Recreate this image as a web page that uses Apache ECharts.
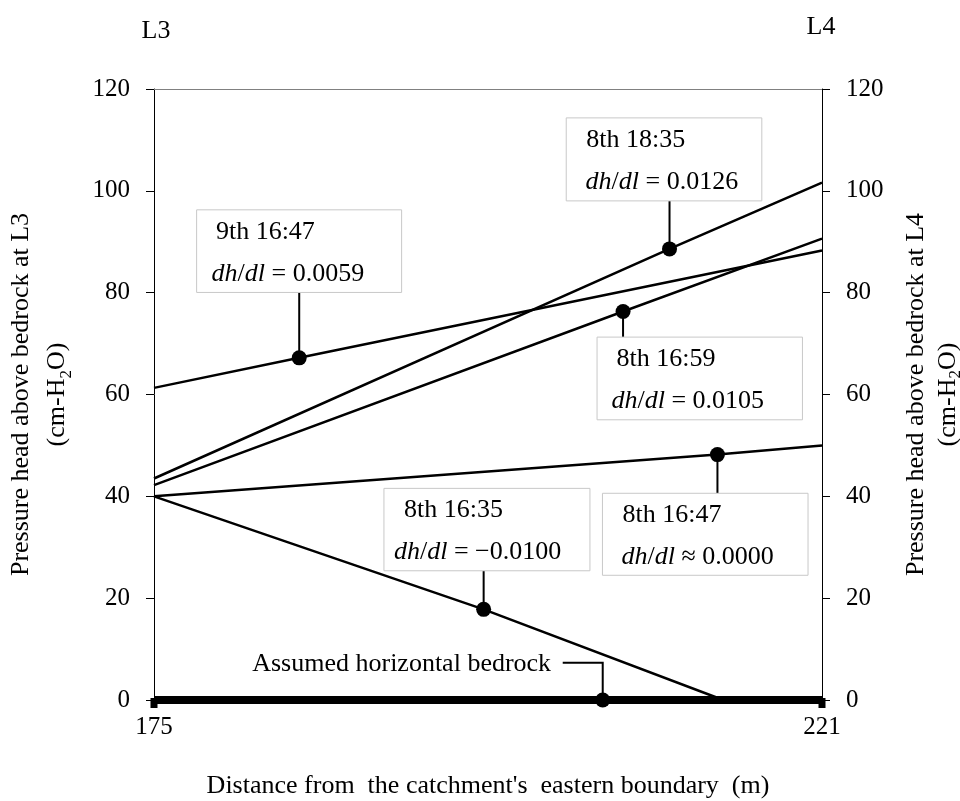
<!DOCTYPE html>
<html>
<head>
<meta charset="utf-8">
<script src="https://cdn.jsdelivr.net/npm/echarts@6/dist/echarts.min.js"></script>
<style>
html,body{margin:0;padding:0;background:#fff;}
#chart{width:960px;height:801px;}
</style>
</head>
<body>
<div id="chart"></div>
<script>
// ---- data ----
const xRange = [175, 221];
const xTickLabels = [175, 221];
const yTicks = [0, 20, 40, 60, 80, 100, 120];
const seriesNames = ['9th 16:47', '8th 18:35', '8th 16:59', '8th 16:47', '8th 16:35', 'Assumed horizontal bedrock'];
const line9th1647 = [[175, 61.3], [185.0, 67.2], [221, 88.3]];
const line8th1835 = [[175, 43.5], [210.5, 88.6], [221, 101.6]];
const line8th1659 = [[175, 42.2], [207.3, 76.3], [221, 90.6]];
const line8th1647 = [[175, 40.0], [213.8, 48.2], [221, 50.0]];
const line8th1635 = [[175, 40.0], [197.7, 17.8], [214.2, 0.0]];
const bedrock = [[175, 0], [205.9, 0], [221, 0]];
const gradients = ['= 0.0059', '= 0.0126', '= 0.0105', '\u2248 0.0000', '= \u22120.0100'];

// ---- styling / layout ----
const FONT = "'Liberation Serif', 'Times New Roman', serif";
const seriesData = [line9th1647, line8th1835, line8th1659, line8th1647, line8th1635];
// annotation boxes: offsets relative to the marked point (pixels)
const notes = [
  {s: 0, dx: -102.6, dy: -148, w: 205, h: 82.6, p1: 19.3, p2: 15},
  {s: 1, dx: -103.3, dy: -131, w: 195.6, h: 83, p1: 20, p2: 19.3},
  {s: 2, dx: -26, dy: 25.6, w: 205.4, h: 82.7, p1: 19.4, p2: 14.4},
  {s: 3, dx: -115, dy: 38.7, w: 205.6, h: 82, p1: 20, p2: 19},
  {s: 4, dx: -99.7, dy: -121, w: 206, h: 82.4, p1: 20, p2: 10}
];

function lineSeries(data, i) {
  return {
    name: seriesNames[i],
    type: 'line',
    data: data.map((p, k) => ({
      value: p,
      symbol: k === 1 ? 'circle' : 'none',
      symbolSize: 15
    })),
    showSymbol: true,
    lineStyle: {color: '#000', width: 2.5},
    itemStyle: {color: '#000'},
    z: 3,
    silent: true,
    animation: false
  };
}

const series = seriesData.map(lineSeries);
series.push({
  name: seriesNames[5],
  type: 'line',
  data: bedrock.map((p, k) => ({
    value: p,
    symbol: k === 1 ? 'circle' : 'rect',
    symbolSize: k === 1 ? 15 : [7, 10],
    symbolOffset: k === 1 ? [0, 0] : [0, 3]
  })),
  lineStyle: {color: '#000', width: 8},
  itemStyle: {color: '#000'},
  z: 4,
  animation: false
});

const chart = echarts.init(document.getElementById('chart'), null, {renderer: 'canvas'});

const axisLabelStyle = {color: '#000', fontFamily: FONT, fontSize: 25};
const titleStyle = {color: '#000', fontFamily: FONT, fontSize: 26};

function yAxis(pos, suffix, lh, gap) {
  return {
    type: 'value',
    position: pos,
    min: yTicks[0], max: yTicks[yTicks.length - 1], interval: yTicks[1] - yTicks[0],
    axisLine: {show: true, lineStyle: {color: '#000', width: 1}},
    axisTick: {show: true, length: 8, inside: false, lineStyle: {color: '#000'}},
    axisLabel: Object.assign({margin: 24}, axisLabelStyle),
    splitLine: {show: false},
    name: 'Pressure head above bedrock at ' + suffix + '\n{a|(cm-H}{s|2}{a|O)}',
    nameLocation: 'middle',
    nameRotate: 90,
    nameGap: gap,
    nameTextStyle: Object.assign({lineHeight: lh, rich: {
      a: {fontFamily: FONT, fontSize: 26, color: '#000', lineHeight: lh},
      s: {fontFamily: FONT, fontSize: 17, color: '#000', verticalAlign: 'bottom', lineHeight: 22}
    }}, titleStyle)
  };
}

chart.setOption({
  animation: false,
  backgroundColor: '#fff',
  grid: {left: 154, right: 138, top: 89, bottom: 101, containLabel: false, outerBoundsMode: 'none'},
  xAxis: [{
    type: 'value',
    position: 'bottom',
    min: xRange[0], max: xRange[1],
    axisLine: {show: true, onZero: false, lineStyle: {color: '#000'}},
    axisTick: {show: false},
    axisLabel: Object.assign({margin: 15, customValues: xTickLabels, showMinLabel: true, showMaxLabel: true}, axisLabelStyle),
    splitLine: {show: false},
    name: 'Distance from  the catchment\'s  eastern boundary  (m)',
    nameLocation: 'middle',
    nameGap: 73,
    nameTextStyle: titleStyle
  }, {
    type: 'value',
    position: 'top',
    min: xRange[0], max: xRange[1],
    axisLine: {show: true, onZero: false, lineStyle: {color: '#808080', width: 1}},
    axisTick: {show: false},
    axisLabel: {show: false},
    splitLine: {show: false}
  }],
  yAxis: [yAxis('left', 'L3', 36, 79), yAxis('right', 'L4', 32, 78)],
  series: series
});

// ---- annotations built from the library's scales ----
function px(p) { return chart.convertToPixel({xAxisIndex: 0, yAxisIndex: 0}, p); }
const graphics = [];
notes.forEach(n => {
  const m = px(seriesData[n.s][1]);
  const bx = m[0] + n.dx, by = m[1] + n.dy;
  const edgeY = n.dy < 0 ? by + n.h : by;
  graphics.push({type: 'line', shape: {x1: m[0], y1: m[1], x2: m[0], y2: edgeY},
    style: {stroke: '#000', lineWidth: 2}, z: 5, silent: true});
  graphics.push({type: 'rect', shape: {x: bx, y: by, width: n.w, height: n.h},
    style: {fill: '#fff', stroke: '#c8c8c8', lineWidth: 1}, z: 6, silent: true});
  graphics.push({type: 'text', x: bx + n.p1, y: by + 22, z: 7, silent: true,
    style: {text: seriesNames[n.s], fontFamily: FONT, fontSize: 26, fill: '#000', verticalAlign: 'middle', align: 'left'}});
  graphics.push({type: 'text', x: bx + n.p2, y: by + 64, z: 7, silent: true,
    style: {text: '{i|dh}{n|/}{i|dl}{n| ' + gradients[n.s] + '}', verticalAlign: 'middle', align: 'left',
      rich: {
        i: {fontFamily: FONT, fontSize: 26, fontStyle: 'italic', fill: '#000'},
        n: {fontFamily: FONT, fontSize: 26, fill: '#000'}
      }}});
});
// bedrock label with leader
const bm = px(bedrock[1]);
graphics.push({type: 'polyline', shape: {points: [[bm[0] - 40, bm[1] - 37.3], [bm[0], bm[1] - 37.3], [bm[0], bm[1]]]},
  style: {stroke: '#000', lineWidth: 2, fill: null}, z: 5, silent: true});
graphics.push({type: 'text', x: bm[0] - 51.6, y: bm[1] - 36, z: 7, silent: true,
  style: {text: seriesNames[5], fontFamily: FONT, fontSize: 26, fill: '#000', align: 'right', verticalAlign: 'middle'}});
// location labels above the two axes
const gl = px([xRange[0], yTicks[yTicks.length - 1]]);
const gr = px([xRange[1], yTicks[yTicks.length - 1]]);
graphics.push({type: 'text', x: gl[0] + 2, y: 31, silent: true,
  style: {text: 'L3', fontFamily: FONT, fontSize: 26, fill: '#000', align: 'center', verticalAlign: 'middle'}});
graphics.push({type: 'text', x: gr[0] - 1, y: 27, silent: true,
  style: {text: 'L4', fontFamily: FONT, fontSize: 26, fill: '#000', align: 'center', verticalAlign: 'middle'}});

chart.setOption({graphic: graphics});
</script>
</body>
</html>
